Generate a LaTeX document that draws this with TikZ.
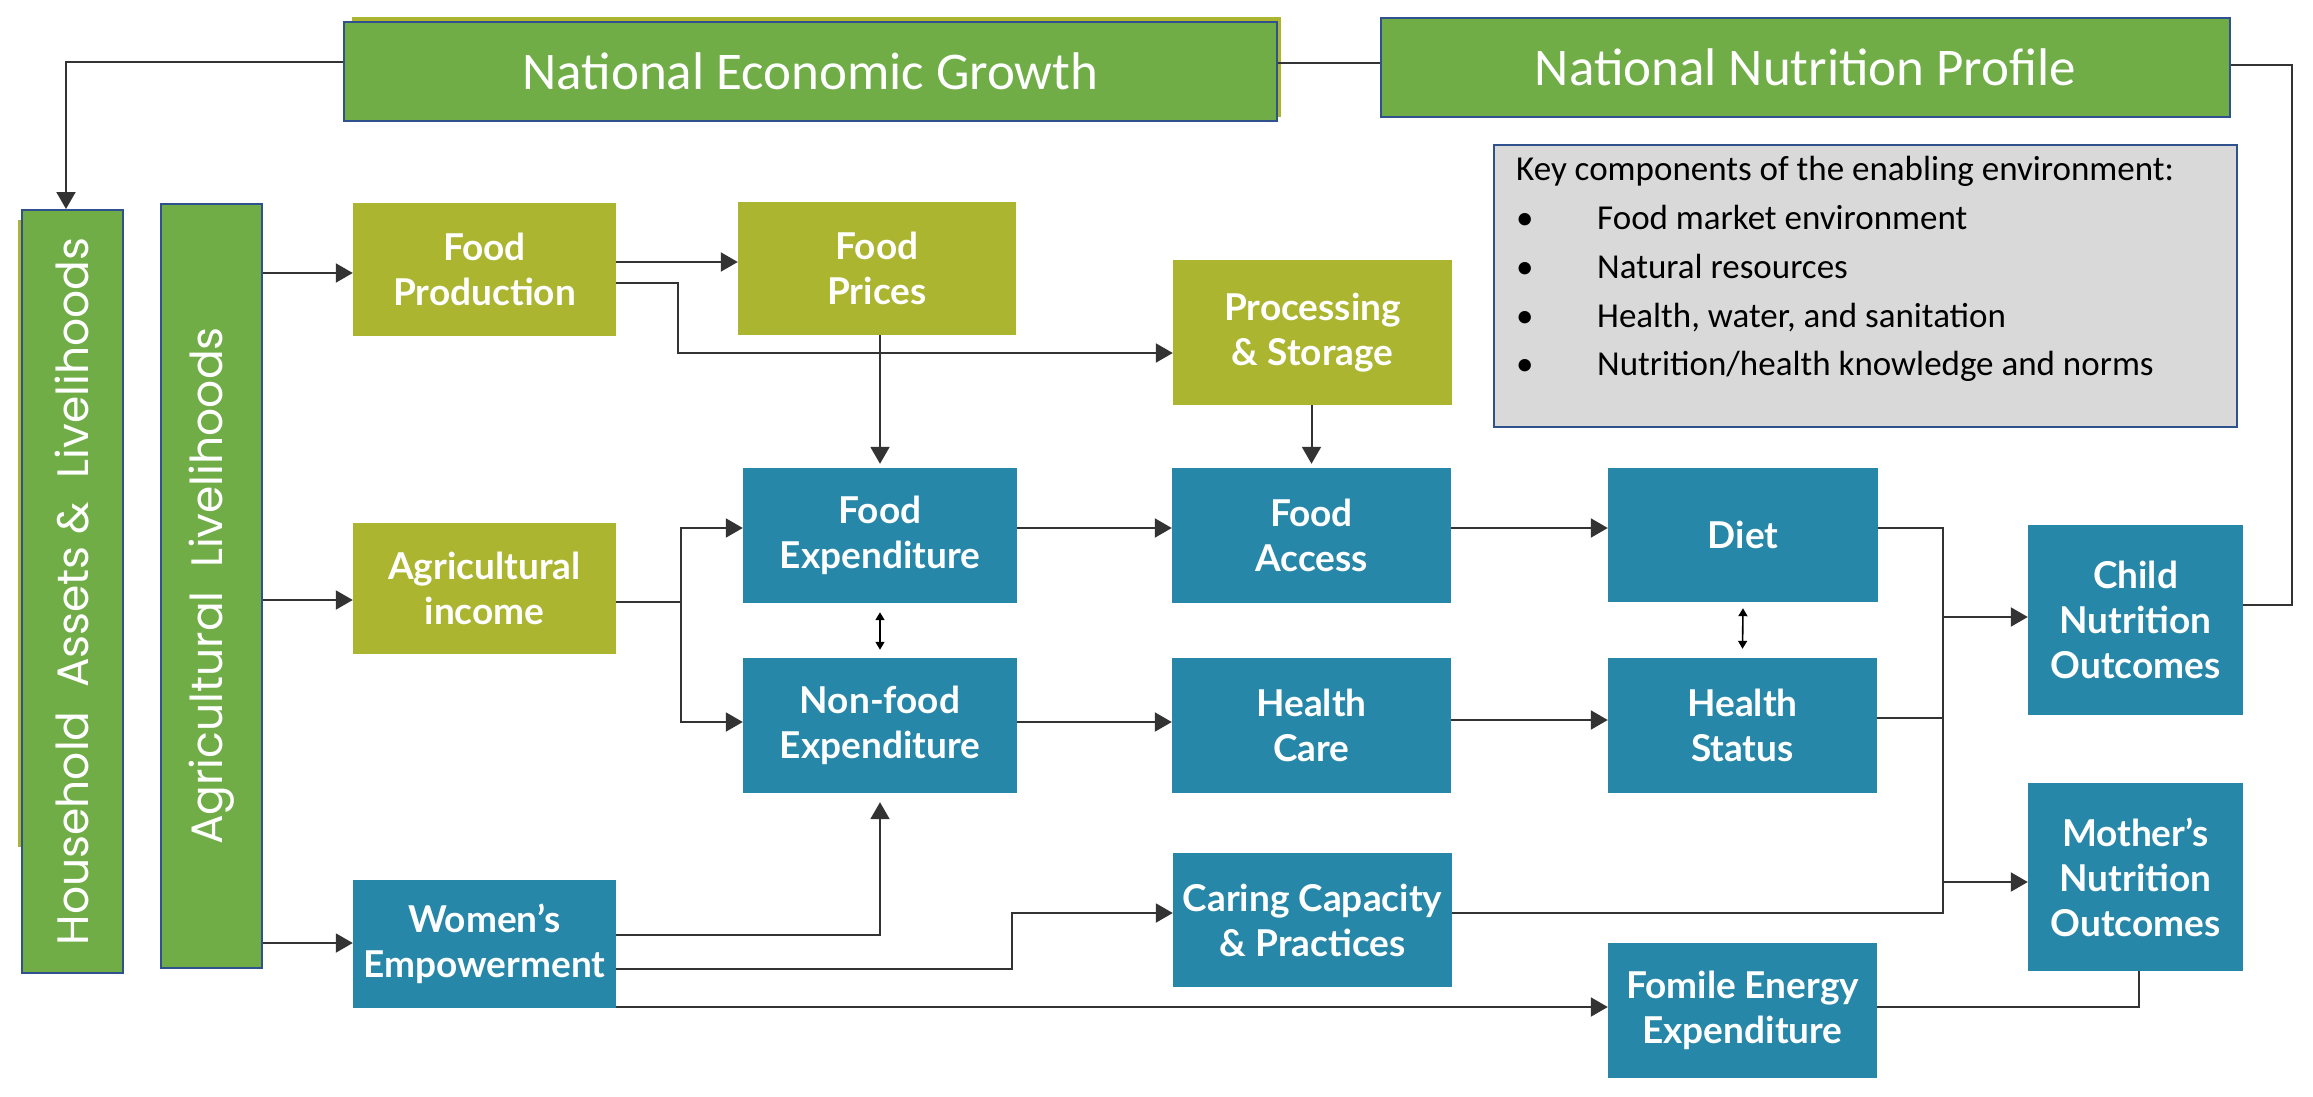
\documentclass[tikz,border=0pt]{standalone}
\usepackage{fontspec}
\setmainfont{Carlito}
\newfontfamily\lato{Lato}
\newfontfamily\pop{Poppins}
\usetikzlibrary{arrows.meta,calc}
\definecolor{cgreen}{HTML}{70AD47}
\definecolor{colive}{HTML}{ABB530}
\definecolor{cteal}{HTML}{2687A8}
\definecolor{cborder}{HTML}{2F528F}
\definecolor{ckey}{HTML}{D9D9D9}
\definecolor{cline}{HTML}{333333}
\begin{document}
\begin{tikzpicture}[x=1pt,y=-1pt,
  sz/.style 2 args={minimum width=#1, minimum height=#2},
  boxbase/.style={rectangle, inner sep=0pt, align=center, text=white, font=\lato\bfseries\fontsize{37}{45}\selectfont},
  tealbox/.style={boxbase, fill=cteal},
  olivebox/.style={boxbase, fill=colive},
  greenbox/.style={rectangle, inner sep=0pt, fill=cgreen, draw=cborder, line width=2pt, text=white, font=\fontsize{53}{60}\selectfont},
  vtext/.style={rotate=90, text=white, inner sep=0pt, font=\pop\fontsize{44}{50}\selectfont},
  keytext/.style={inner sep=0pt, font=\fontsize{35}{40}\selectfont, text=black},
  arr/.style={draw=cline, line width=2pt, -{Triangle[length=17pt,width=19pt]}},
  conn/.style={draw=cline, line width=2pt},
  dbl/.style={draw=black, line width=1.6pt, {Triangle[length=8pt,width=9pt]}-{Triangle[length=8pt,width=9pt]}},
]
\useasboundingbox (0,0) rectangle (2313,1097);
\fill[white] (0,0) rectangle (2313,1097);

% top bars
\fill[colive] (352,17) rectangle (1281,117);
\node[greenbox, sz={933}{99}] (NEG) at (810.5,71.5) {National Economic Growth};
\node[greenbox, sz={849}{99}] (NNP) at (1805.5,67.5) {National Nutrition Profile};

% key box
\node[draw=cborder, fill=ckey, line width=2pt, inner sep=0pt, sz={743}{282}] (Key) at (1865.5,286) {};
\node[keytext, anchor=base west] (k0) at (1516,180) {Key components of the enabling environment:};
\node[keytext, anchor=base west] (b1) at (1516,229) {\textbullet};
\node[keytext, anchor=base west] (k1) at (1597,229) {Food market environment};
\node[keytext, anchor=base west] (b2) at (1516,278) {\textbullet};
\node[keytext, anchor=base west] (k2) at (1597,278) {Natural resources};
\node[keytext, anchor=base west] (b3) at (1516,327) {\textbullet};
\node[keytext, anchor=base west] (k3) at (1597,327) {Health, water, and sanitation};
\node[keytext, anchor=base west] (b4) at (1516,375) {\textbullet};
\node[keytext, anchor=base west] (k4) at (1597,375) {Nutrition/health knowledge and norms};

% vertical bars
\fill[colive] (18,220) rectangle (118,847);
\node[greenbox, sz={101}{763}] (House) at (72.5,591.5) {};
\node[vtext] (HouseT) at (House.center) {Household\ \ Assets \&\ \ Livelihoods};
\node[greenbox, sz={101}{764}] (Agri) at (211.5,586) {};
\node[vtext] (AgriT) at (Agri.center) {Agricultural\ \ Livelihoods};

% olive boxes
\node[olivebox, sz={263}{133}] (FP) at (484.5,269.5) {Food\\Production};
\node[olivebox, sz={278}{133}] (FPr) at (877,268.5) {Food\\Prices};
\node[olivebox, sz={279}{145}] (PS) at (1312.5,332.5) {Processing\\\& Storage};
\node[olivebox, sz={263}{131}] (AI) at (484.5,588.5) {Agricultural\\income};

% teal boxes
\node[tealbox, sz={274}{135}] (FE) at (880,535.5) {Food\\Expenditure};
\node[tealbox, sz={279}{135}] (FA) at (1311.5,535.5) {Food\\Access};
\node[tealbox, sz={270}{134}] (Diet) at (1743,535) {Diet};
\node[tealbox, sz={274}{135}] (NFE) at (880,725.5) {Non-food\\Expenditure};
\node[tealbox, sz={279}{135}] (HC) at (1311.5,725.5) {Health\\Care};
\node[tealbox, sz={269}{135}] (HS) at (1742.5,725.5) {Health\\Status};
\node[tealbox, sz={215}{190}] (Child) at (2135.5,620) {Child\\Nutrition\\Outcomes};
\node[tealbox, sz={215}{188}] (Mother) at (2135.5,877) {Mother’s\\Nutrition\\Outcomes};
\node[tealbox, sz={263}{128}] (WE) at (484.5,944) {Women’s\\Empowerment};
\node[tealbox, sz={279}{134}] (CC) at (1312.5,920) {Caring Capacity\\\& Practices};
\node[tealbox, sz={269}{135}] (FEE) at (1742.5,1010.5) {Fomile Energy\\Expenditure};

% connectors
\draw[arr] (NEG.west |- 0,62) -| ([xshift=-6.5pt]House.north);
\draw[conn] (NEG.east |- 0,63) -- (NNP.west |- 0,63);
\draw[conn] (NNP.east |- 0,65) -| (2292,605) -- (Child.east |- 0,605);

\draw[arr] (Agri.east |- 0,273) -- (FP.west |- 0,273);
\draw[arr] (Agri.east |- 0,600) -- (AI.west |- 0,600);
\draw[arr] (Agri.east |- 0,943) -- (WE.west |- 0,943);

\draw[arr] (FP.east |- 0,262) -- (FPr.west |- 0,262);
\draw[arr] (FP.east |- 0,283) -| (678,353) -- (PS.west |- 0,353);
\draw[arr] (FE.north |- FPr.south) -- ([yshift=4pt]FE.north);
\draw[arr] (FA.north |- PS.south) -- ([yshift=4pt]FA.north);

\coordinate (br) at (681,602);
\draw[conn] (AI.east |- br) -- (br);
\draw[arr] (br) |- (FE.west |- 0,528);
\draw[arr] (br) |- (NFE.west |- 0,722);

\draw[arr] (FE.east |- 0,528) -- (FA.west |- 0,528);
\draw[arr] (FA.east |- 0,528) -- (Diet.west |- 0,528);
\draw[dbl] ([yshift=-9pt]FE.south) -- ([yshift=8pt]NFE.north);
\draw[arr] (NFE.east |- 0,722) -- (HC.west |- 0,722);
\draw[arr] (HC.east |- 0,720) -- (HS.west |- 0,720);
\draw[dbl] ([yshift=-6pt]Diet.south) -- ([yshift=9pt]HS.north);

\coordinate (jn) at (1943,913);
\draw[conn] (Diet.east |- 0,528) -| (jn) -- (CC.east |- jn);
\draw[conn] (HS.east |- 0,718) -- (jn |- 0,718);
\draw[arr] (jn |- 0,617) -- (Child.west |- 0,617);
\draw[arr] (jn |- 0,882) -- (Mother.west |- 0,882);

\draw[arr] (WE.east |- 0,935) -| ([yshift=-9pt]NFE.south);
\draw[arr] (WE.east |- 0,969) -| (1012,913) -- (CC.west |- 0,913);
\draw[arr] (WE.east |- 0,1007) -- (FEE.west |- 0,1007);
\draw[conn] (FEE.east |- 0,1007) -| (Mother.south -| 2139,0);
\end{tikzpicture}
\end{document}
